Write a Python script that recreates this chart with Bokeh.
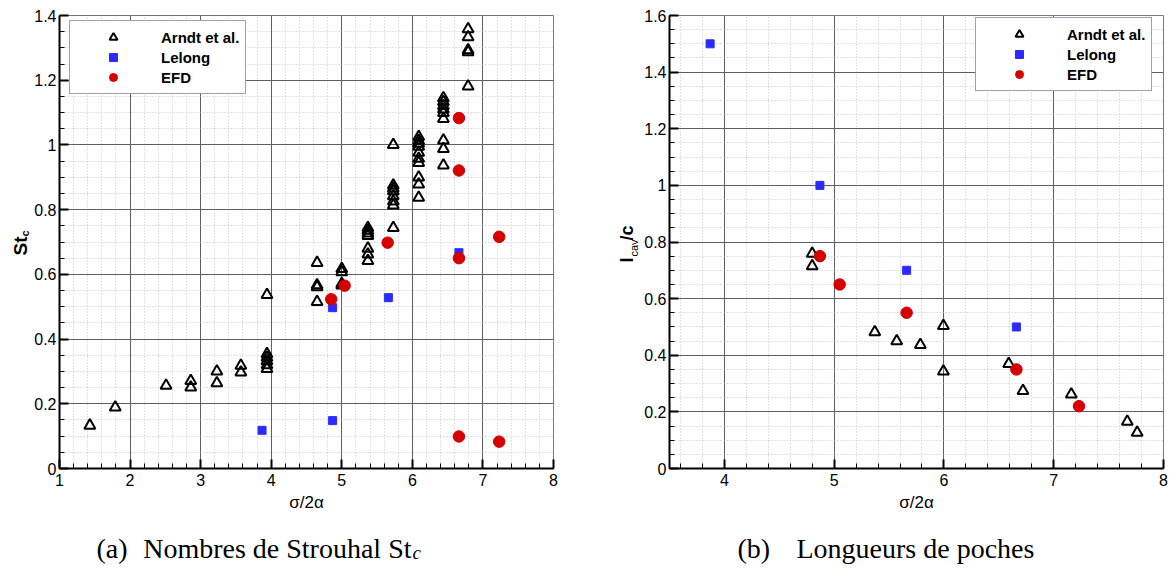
import math
from bokeh.plotting import figure
from bokeh.models import Range1d, SingleIntervalTicker, CustomJSTickFormatter, Label
from bokeh.layouts import column, row
from bokeh.embed import file_html
from bokeh.resources import INLINE

# ---------------- data: (a) Strouhal number St_c vs sigma/2alpha ----------------
st_arndt_x = [1.43, 1.79, 2.51, 2.86, 2.86, 3.23, 3.23, 3.57, 3.57,
              3.94, 3.94, 3.94, 3.94, 3.94, 3.94,
              4.65, 4.65, 4.65, 4.65,
              5.00, 5.00, 5.00, 5.00,
              5.37, 5.37, 5.37, 5.37, 5.37, 5.37, 5.37,
              5.73, 5.73, 5.73, 5.73, 5.73, 5.73, 5.73, 5.73,
              6.09, 6.09, 6.09, 6.09, 6.09, 6.09, 6.09, 6.09, 6.09, 6.09,
              6.44, 6.44, 6.44, 6.44, 6.44, 6.44, 6.44, 6.44, 6.44,
              6.79, 6.79, 6.79, 6.79, 6.79]
st_arndt_y = [0.133, 0.189, 0.256, 0.271, 0.251, 0.300, 0.264, 0.318, 0.297,
              0.354, 0.343, 0.332, 0.320, 0.308, 0.537,
              0.636, 0.567, 0.561, 0.515,
              0.617, 0.607, 0.571, 0.566,
              0.744, 0.735, 0.727, 0.719, 0.680, 0.662, 0.642,
              1.000, 0.875, 0.866, 0.857, 0.842, 0.826, 0.813, 0.744,
              1.025, 1.013, 1.004, 0.995, 0.976, 0.958, 0.945, 0.900, 0.878, 0.837,
              1.145, 1.133, 1.121, 1.110, 1.099, 1.081, 1.014, 0.988, 0.937,
              1.358, 1.333, 1.293, 1.287, 1.181]
st_lelong_x = [3.87, 4.87, 4.87, 5.66, 6.66]
st_lelong_y = [0.118, 0.148, 0.497, 0.528, 0.667]
st_efd_x = [4.85, 5.04, 5.65, 6.66, 6.66, 6.66, 6.66, 7.23, 7.23]
st_efd_y = [0.523, 0.565, 0.698, 1.083, 0.921, 0.650, 0.099, 0.716, 0.083]

# ---------------- data: (b) cavity length l_cav/c vs sigma/2alpha ----------------
lc_arndt_x = [4.80, 4.80, 5.37, 5.57, 5.785, 5.995, 5.995, 6.59, 6.72, 7.16, 7.67, 7.76]
lc_arndt_y = [0.759, 0.715, 0.482, 0.450, 0.437, 0.504, 0.343, 0.370, 0.274, 0.262, 0.166, 0.127]
lc_lelong_x = [3.87, 4.87, 5.66, 6.66]
lc_lelong_y = [1.50, 1.00, 0.70, 0.50]
lc_efd_x = [4.87, 5.05, 5.66, 6.66, 7.23]
lc_efd_y = [0.75, 0.65, 0.55, 0.35, 0.22]

series_names = ["Arndt et al.", "Lelong", "EFD"]
x_label = "σ/2α"
captions = ["(a)", "Nombres de Strouhal St", "c", "(b)", "Longueurs de poches"]

SANS = "Liberation Sans"
SERIF = "Liberation Serif"
BLUE = "#2b2bff"
RED = "#d60000"
H = 516            # height of the plot row
TOP, BOT = 15, 48  # frame borders (frame spans page y 15..468)
FRAME_BOTTOM = H - BOT

FMT = CustomJSTickFormatter(code="return String(Math.round(tick*100)/100);")


def make_panel(xr, yr, width, mbl, mbr, xs, legend_xy):
    p = figure(width=width, height=H, x_range=Range1d(*xr), y_range=Range1d(*yr),
               output_backend="svg", toolbar_location=None,
               min_border_left=mbl, min_border_right=mbr,
               min_border_top=TOP, min_border_bottom=BOT,
               background_fill_color="white", border_fill_color="white")
    p.outline_line_color = "#7a7a7a"
    p.outline_line_width = 1
    p.xaxis.ticker = SingleIntervalTicker(interval=1, num_minor_ticks=5)
    p.yaxis.ticker = SingleIntervalTicker(interval=0.2, num_minor_ticks=4)
    p.xgrid.ticker = p.xaxis.ticker
    p.ygrid.ticker = p.yaxis.ticker
    for ax in (p.xaxis[0], p.yaxis[0]):
        ax.formatter = FMT
        ax.axis_line_color = "black"
        ax.axis_line_width = 2
        ax.major_tick_in = 9
        ax.major_tick_out = 0
        ax.minor_tick_in = 5
        ax.minor_tick_out = 0
        ax.major_tick_line_color = "black"
        ax.major_tick_line_width = 2
        ax.minor_tick_line_color = "black"
        ax.minor_tick_line_width = 1
        ax.major_label_text_font = SANS
        ax.major_label_text_font_size = "16px"
        ax.major_label_text_color = "black"
    p.xaxis.major_label_standoff = 5
    p.yaxis.major_label_standoff = 3
    p.xaxis.axis_label = x_label
    p.xaxis.axis_label_text_font = SANS
    p.xaxis.axis_label_text_font_style = "normal"
    p.xaxis.axis_label_text_font_size = "17px"
    p.xaxis.axis_label_text_color = "black"
    p.xaxis.axis_label_standoff = 4
    for g in (p.xgrid[0], p.ygrid[0]):
        g.grid_line_color = "#5e5e5e"
        g.grid_line_width = 1
        g.minor_grid_line_color = "#c4c4c4"
        g.minor_grid_line_dash = "1 2"
        g.minor_grid_line_width = 1

    ax_, ay_, lx_, ly_, ex_, ey_ = xs
    p.scatter(ax_, ay_, marker="triangle", size=11, fill_color=None,
              line_color="black", line_width=2, legend_label=series_names[0])
    p.scatter(lx_, ly_, marker="square", size=8, fill_color=BLUE,
              line_color=BLUE, line_width=1, legend_label=series_names[1])
    p.scatter(ex_, ey_, marker="circle", size=11.5, fill_color=RED,
              line_color=RED, line_width=1, legend_label=series_names[2])

    lg = p.legend[0]
    lg.location = legend_xy
    lg.margin = 0
    lg.padding = 6
    lg.spacing = 0
    lg.glyph_width = 74
    lg.glyph_height = 20
    lg.label_height = 20
    lg.label_standoff = 11
    lg.label_text_font = SANS
    lg.label_text_font_style = "bold"
    lg.label_text_font_size = "15px"
    lg.label_text_color = "black"
    lg.border_line_color = "#444444"
    lg.border_line_width = 1
    lg.background_fill_color = "white"
    lg.background_fill_alpha = 1
    return p


def strip(width, height, top=0, bottom=0):
    s = figure(width=width, height=height, x_range=Range1d(0, 1), y_range=Range1d(0, 1),
               output_backend="svg", toolbar_location=None, min_border=0,
               min_border_top=top, min_border_bottom=bottom,
               x_axis_location=None, y_axis_location=None)
    s.outline_line_color = None
    s.grid.visible = False
    return s


def vlabel(s, text, x, page_y, size, style):
    # rotated label: x is the centre of the glyph body, page_y its lower end
    s.add_layout(Label(x=x, y=FRAME_BOTTOM - page_y, x_units="screen", y_units="screen",
                       text=text, angle=math.pi / 2, text_font=SANS, text_font_style=style,
                       text_font_size=size, text_align="left",
                       text_baseline="middle", text_color="black"))


# ---- panel (a)
p1 = make_panel((1, 8), (0, 1.4000001), 570, 29, 47,
                (st_arndt_x, st_arndt_y, st_lelong_x, st_lelong_y, st_efd_x, st_efd_y),
                (10, 374))
yl1 = strip(30, H, TOP, BOT)
vlabel(yl1, "St", 20, 255, "19px", "bold")
vlabel(yl1, "c", 24, 236, "11px", "bold")

# ---- panel (b)
p2 = make_panel((3.5, 8), (0, 1.6), 531, 29, 8,
                (lc_arndt_x, lc_arndt_y, lc_lelong_x, lc_lelong_y, lc_efd_x, lc_efd_y),
                (306, 377))
yl2 = strip(40, H, TOP, BOT)
vlabel(yl2, "l", 26, 262, "18px", "bold")
vlabel(yl2, "cav", 33, 256, "11px", "normal")
vlabel(yl2, "/c", 26, 240, "18px", "bold")

# ---- captions
CAP_H = 52
cap = strip(1171, CAP_H)
BASE = 20


def ctext(text, x, y, size, align, style="normal"):
    cap.add_layout(Label(x=x, y=y, x_units="screen", y_units="screen", text=text,
                         text_font=SERIF, text_font_style=style, text_font_size=size,
                         text_align=align, text_baseline="alphabetic", text_color="black"))


ctext(captions[0], 96, BASE, "28px", "left")
ctext(captions[1], 411, BASE, "28px", "right")
ctext(captions[2], 412, BASE - 4, "19px", "left", "italic")
ctext(captions[3], 737, BASE, "28px", "left")
ctext(captions[4], 796, BASE, "28px", "left")

layout = column(row(yl1, p1, yl2, p2), cap)
open("out.html", "w").write(file_html(layout, INLINE))
